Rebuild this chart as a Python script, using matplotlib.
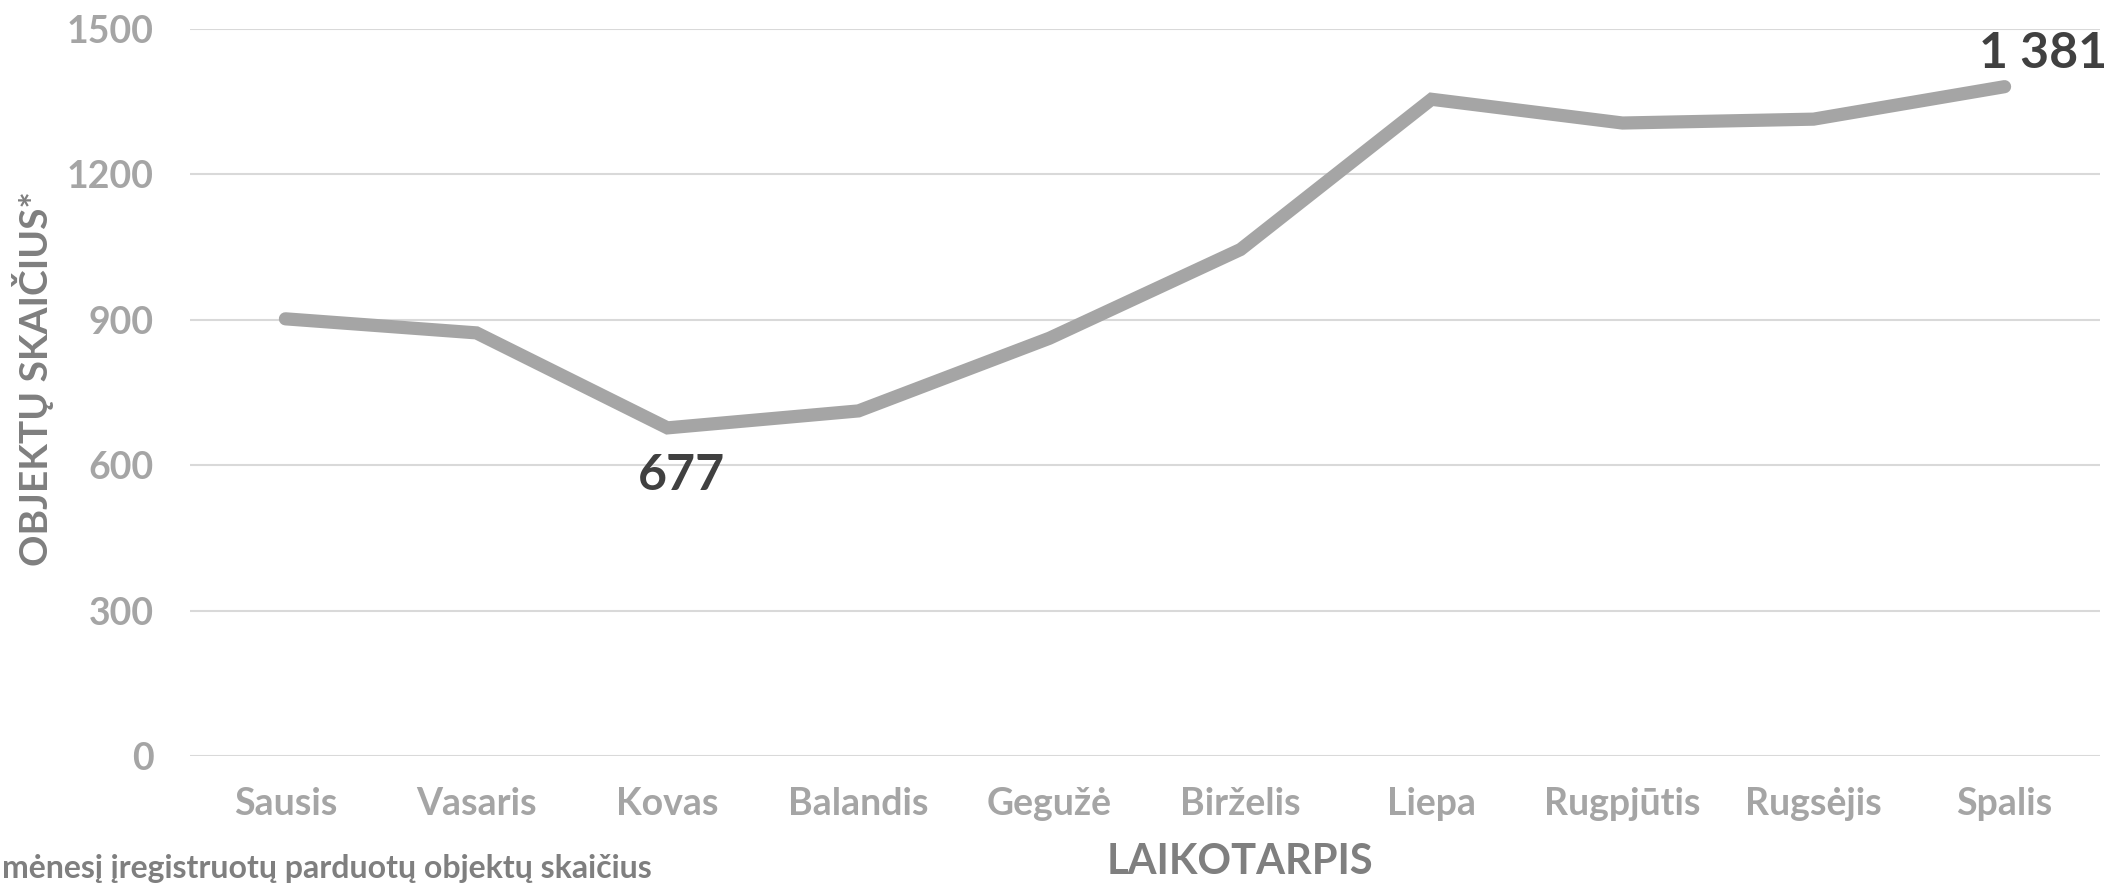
import matplotlib
matplotlib.use("Agg")
import matplotlib.pyplot as plt

# Monthly sold objects
months = ["Sausis", "Vasaris", "Kovas", "Balandis", "Gegužė",
          "Birželis", "Liepa", "Rugpjūtis", "Rugsėjis", "Spalis"]
counts = [902, 873, 677, 712, 862, 1045, 1355, 1306, 1314, 1381]
y_ticks = [0, 300, 600, 900, 1200, 1500]
labelled = {2: "677", 9: "1 381"}

plt.rcParams['font.family'] = ['Lato', 'DejaVu Sans']
plt.rcParams['font.weight'] = 'bold'

fig = plt.figure(figsize=(21.1, 8.84), dpi=100)
ax = fig.add_axes([0.090, 0.1448, 0.9053, 0.8224])

x = list(range(len(months)))
ax.plot(x, counts, color='#A5A5A5', linewidth=9.5, solid_capstyle='round',
        solid_joinstyle='miter', zorder=3)

ax.set_xlim(-0.5, len(months) - 0.5)
ax.set_ylim(0, 1500)
ax.set_yticks(y_ticks)
ax.set_yticklabels([str(v) for v in y_ticks])
ax.set_xticks(x)
ax.set_xticklabels(months)
ax.tick_params(axis='both', length=0, colors='#A5A5A5', labelsize=27)
ax.tick_params(axis='y', pad=26)
ax.tick_params(axis='x', pad=22)
for lab in ax.get_xticklabels() + ax.get_yticklabels():
    lab.set_fontweight('bold')

ax.grid(axis='y', color='#D9D9D9', linewidth=1.5)
ax.set_axisbelow(True)
for s in ax.spines.values():
    s.set_visible(False)

# data labels
ax.annotate(labelled[2], (2, counts[2]), xytext=(10, -18), textcoords='offset points',
            ha='center', va='top', fontsize=36, fontweight='bold', color='#404040')
ax.annotate(labelled[9], (9, counts[9]), xytext=(28, 8), textcoords='offset points',
            ha='center', va='bottom', fontsize=36, fontweight='bold', color='#404040',
            annotation_clip=False)

fig.text(0.0155, 0.572, "OBJEKTŲ SKAIČIUS*", rotation=90, ha='center', va='center',
         fontsize=28, fontweight='bold', color='#7F7F7F')
fig.text(0.5877, 0.003, "LAIKOTARPIS", ha='center', va='bottom',
         fontsize=30, fontweight='bold', color='#7F7F7F')
fig.text(0.001, 0.001, "mėnesį įregistruotų parduotų objektų skaičius", ha='left',
         va='bottom', fontsize=23, fontweight='bold', color='#7F7F7F')

fig.savefig("out.png", dpi=100)
